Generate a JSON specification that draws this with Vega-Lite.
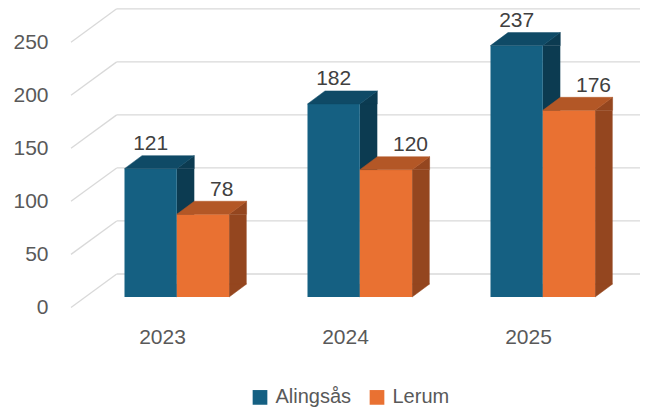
{
  "$schema": "https://vega.github.io/schema/vega-lite/v6.json",
  "width": 549,
  "height": 297,
  "autosize": {"type": "none"},
  "padding": {"left": 71, "top": 0, "right": 39, "bottom": 113},
  "background": "white",
  "config": {"view": {"stroke": null}, "font": "Liberation Sans",
    "axisY": {"title": null, "values": [0, 50, 100, 150, 200, 250], "domain": false, "ticks": false, "grid": false, "labelPadding": 23, "labelOffset": 10.4, "labelFontSize": 21, "labelColor": "#595959", "labelFont": "Liberation Sans"}},
  "datasets": {
    "bars": [
      {"year": "2023", "region": "Alingsås", "value": 121},
      {"year": "2024", "region": "Alingsås", "value": 182},
      {"year": "2025", "region": "Alingsås", "value": 237},
      {"year": "2023", "region": "Lerum", "value": 78},
      {"year": "2024", "region": "Lerum", "value": 120},
      {"year": "2025", "region": "Lerum", "value": 176}
    ],
    "ticks": [{"t": 0}, {"t": 50}, {"t": 100}, {"t": 150}, {"t": 200}, {"t": 250}]
  },
  "encoding": {
    "x": {
      "field": "year", "type": "ordinal",
      "scale": {"domain": ["2023", "2024", "2025"], "paddingInner": 0.428, "paddingOuter": 0.214},
      "axis": {"title": null, "domain": false, "ticks": false, "labelPadding": 29, "labelFontSize": 21, "labelColor": "#595959", "labelAngle": 0, "labelFont": "Liberation Sans"}
    },
    "y": {
      "field": "value", "type": "quantitative",
      "scale": {"domain": [0, 280], "nice": false},
      "axis": {"title": null}
    }
  },
  "layer": [
    {
      "data": {"name": "ticks"},
      "mark": {"type": "rule", "color": "#d9d9d9", "strokeWidth": 1.3, "yOffset": 10.4, "y2Offset": -23},
      "encoding": {"y": {"field": "t", "type": "quantitative", "axis": {"title": null}}, "y2": {"field": "t"}, "x": {"value": 0}, "x2": {"value": 45.7}}
    },
    {
      "data": {"name": "ticks"},
      "mark": {"type": "rule", "color": "#d9d9d9", "strokeWidth": 1.3, "yOffset": -23, "y2Offset": -23},
      "encoding": {"y": {"field": "t", "type": "quantitative", "axis": {"title": null}}, "y2": {"field": "t"}, "x": {"value": 45.7}, "x2": {"value": 569}}
    },
    {
      "data": {"name": "bars"},
      "transform": [{"filter": "datum.region === 'Alingsås'"}],
      "layer": [
        {"mark": {"type": "bar", "width": 17.5, "xOffset": 23.05, "y2Offset": -13, "color": "#0c3b51"}, "encoding": {"y2": {"datum": 0}}},
        {"mark": {"type": "point", "shape": "M26.15,0L43.65,-13L43.65,0Z", "size": 4, "filled": true, "opacity": 1, "color": "#0c3b51", "stroke": "#0c3b51", "strokeWidth": 0.5, "xOffset": -11.85}},
        {"mark": {"type": "point", "shape": "M26.15,-13L26.15,0L43.65,-13Z", "size": 4, "filled": true, "opacity": 1, "color": "#0c3b51", "stroke": "#0c3b51", "strokeWidth": 0.5, "xOffset": -11.85}, "encoding": {"y": {"datum": 0}}},
        {"mark": {"type": "bar", "width": 52.3, "xOffset": -11.85},
         "encoding": {"color": {"field": "region", "type": "nominal", "scale": {"domain": ["Alingsås", "Lerum"], "range": ["#156082", "#E97132"]},
           "legend": {"title": null, "orient": "none", "legendX": 179, "legendY": 387.4, "direction": "horizontal", "symbolType": "square", "symbolSize": 216, "symbolStrokeWidth": 0, "labelFontSize": 20, "labelColor": "#595959", "labelFont": "Liberation Sans", "columnPadding": 15, "labelOffset": 5.5, "padding": 0}}}},
        {"mark": {"type": "point", "shape": "M-26.15,0L26.15,0L43.65,-13L-8.65,-13Z", "size": 4, "filled": true, "opacity": 1, "color": "#0f4a66", "stroke": "#0f4a66", "strokeWidth": 0.5, "xOffset": -11.85}},
        {"mark": {"type": "text", "xOffset": -11.85, "dy": -18.5, "baseline": "alphabetic", "align": "center", "fontSize": 21, "color": "#404040", "font": "Liberation Sans"}, "encoding": {"text": {"field": "value", "type": "quantitative"}}}
      ]
    },
    {
      "data": {"name": "bars"},
      "transform": [{"filter": "datum.region === 'Lerum'"}],
      "layer": [
        {"mark": {"type": "bar", "width": 17.5, "xOffset": 75.35, "y2Offset": -13, "color": "#94461f"}, "encoding": {"y2": {"datum": 0}}},
        {"mark": {"type": "point", "shape": "M26.15,0L43.65,-13L43.65,0Z", "size": 4, "filled": true, "opacity": 1, "color": "#94461f", "stroke": "#94461f", "strokeWidth": 0.5, "xOffset": 40.45}},
        {"mark": {"type": "point", "shape": "M26.15,-13L26.15,0L43.65,-13Z", "size": 4, "filled": true, "opacity": 1, "color": "#94461f", "stroke": "#94461f", "strokeWidth": 0.5, "xOffset": 40.45}, "encoding": {"y": {"datum": 0}}},
        {"mark": {"type": "bar", "width": 52.3, "xOffset": 40.45},
         "encoding": {"color": {"field": "region", "type": "nominal", "scale": {"domain": ["Alingsås", "Lerum"], "range": ["#156082", "#E97132"]},
           "legend": {"title": null, "orient": "none", "legendX": 179, "legendY": 387.4, "direction": "horizontal", "symbolType": "square", "symbolSize": 216, "symbolStrokeWidth": 0, "labelFontSize": 20, "labelColor": "#595959", "labelFont": "Liberation Sans", "columnPadding": 15, "labelOffset": 5.5, "padding": 0}}}},
        {"mark": {"type": "point", "shape": "M-26.15,0L26.15,0L43.65,-13L-8.65,-13Z", "size": 4, "filled": true, "opacity": 1, "color": "#b35726", "stroke": "#b35726", "strokeWidth": 0.5, "xOffset": 40.45}},
        {"mark": {"type": "text", "xOffset": 47.45, "dy": -18.5, "baseline": "alphabetic", "align": "left", "fontSize": 21, "color": "#404040", "font": "Liberation Sans"}, "encoding": {"text": {"field": "value", "type": "quantitative"}}}
      ]
    }
  ]
}
